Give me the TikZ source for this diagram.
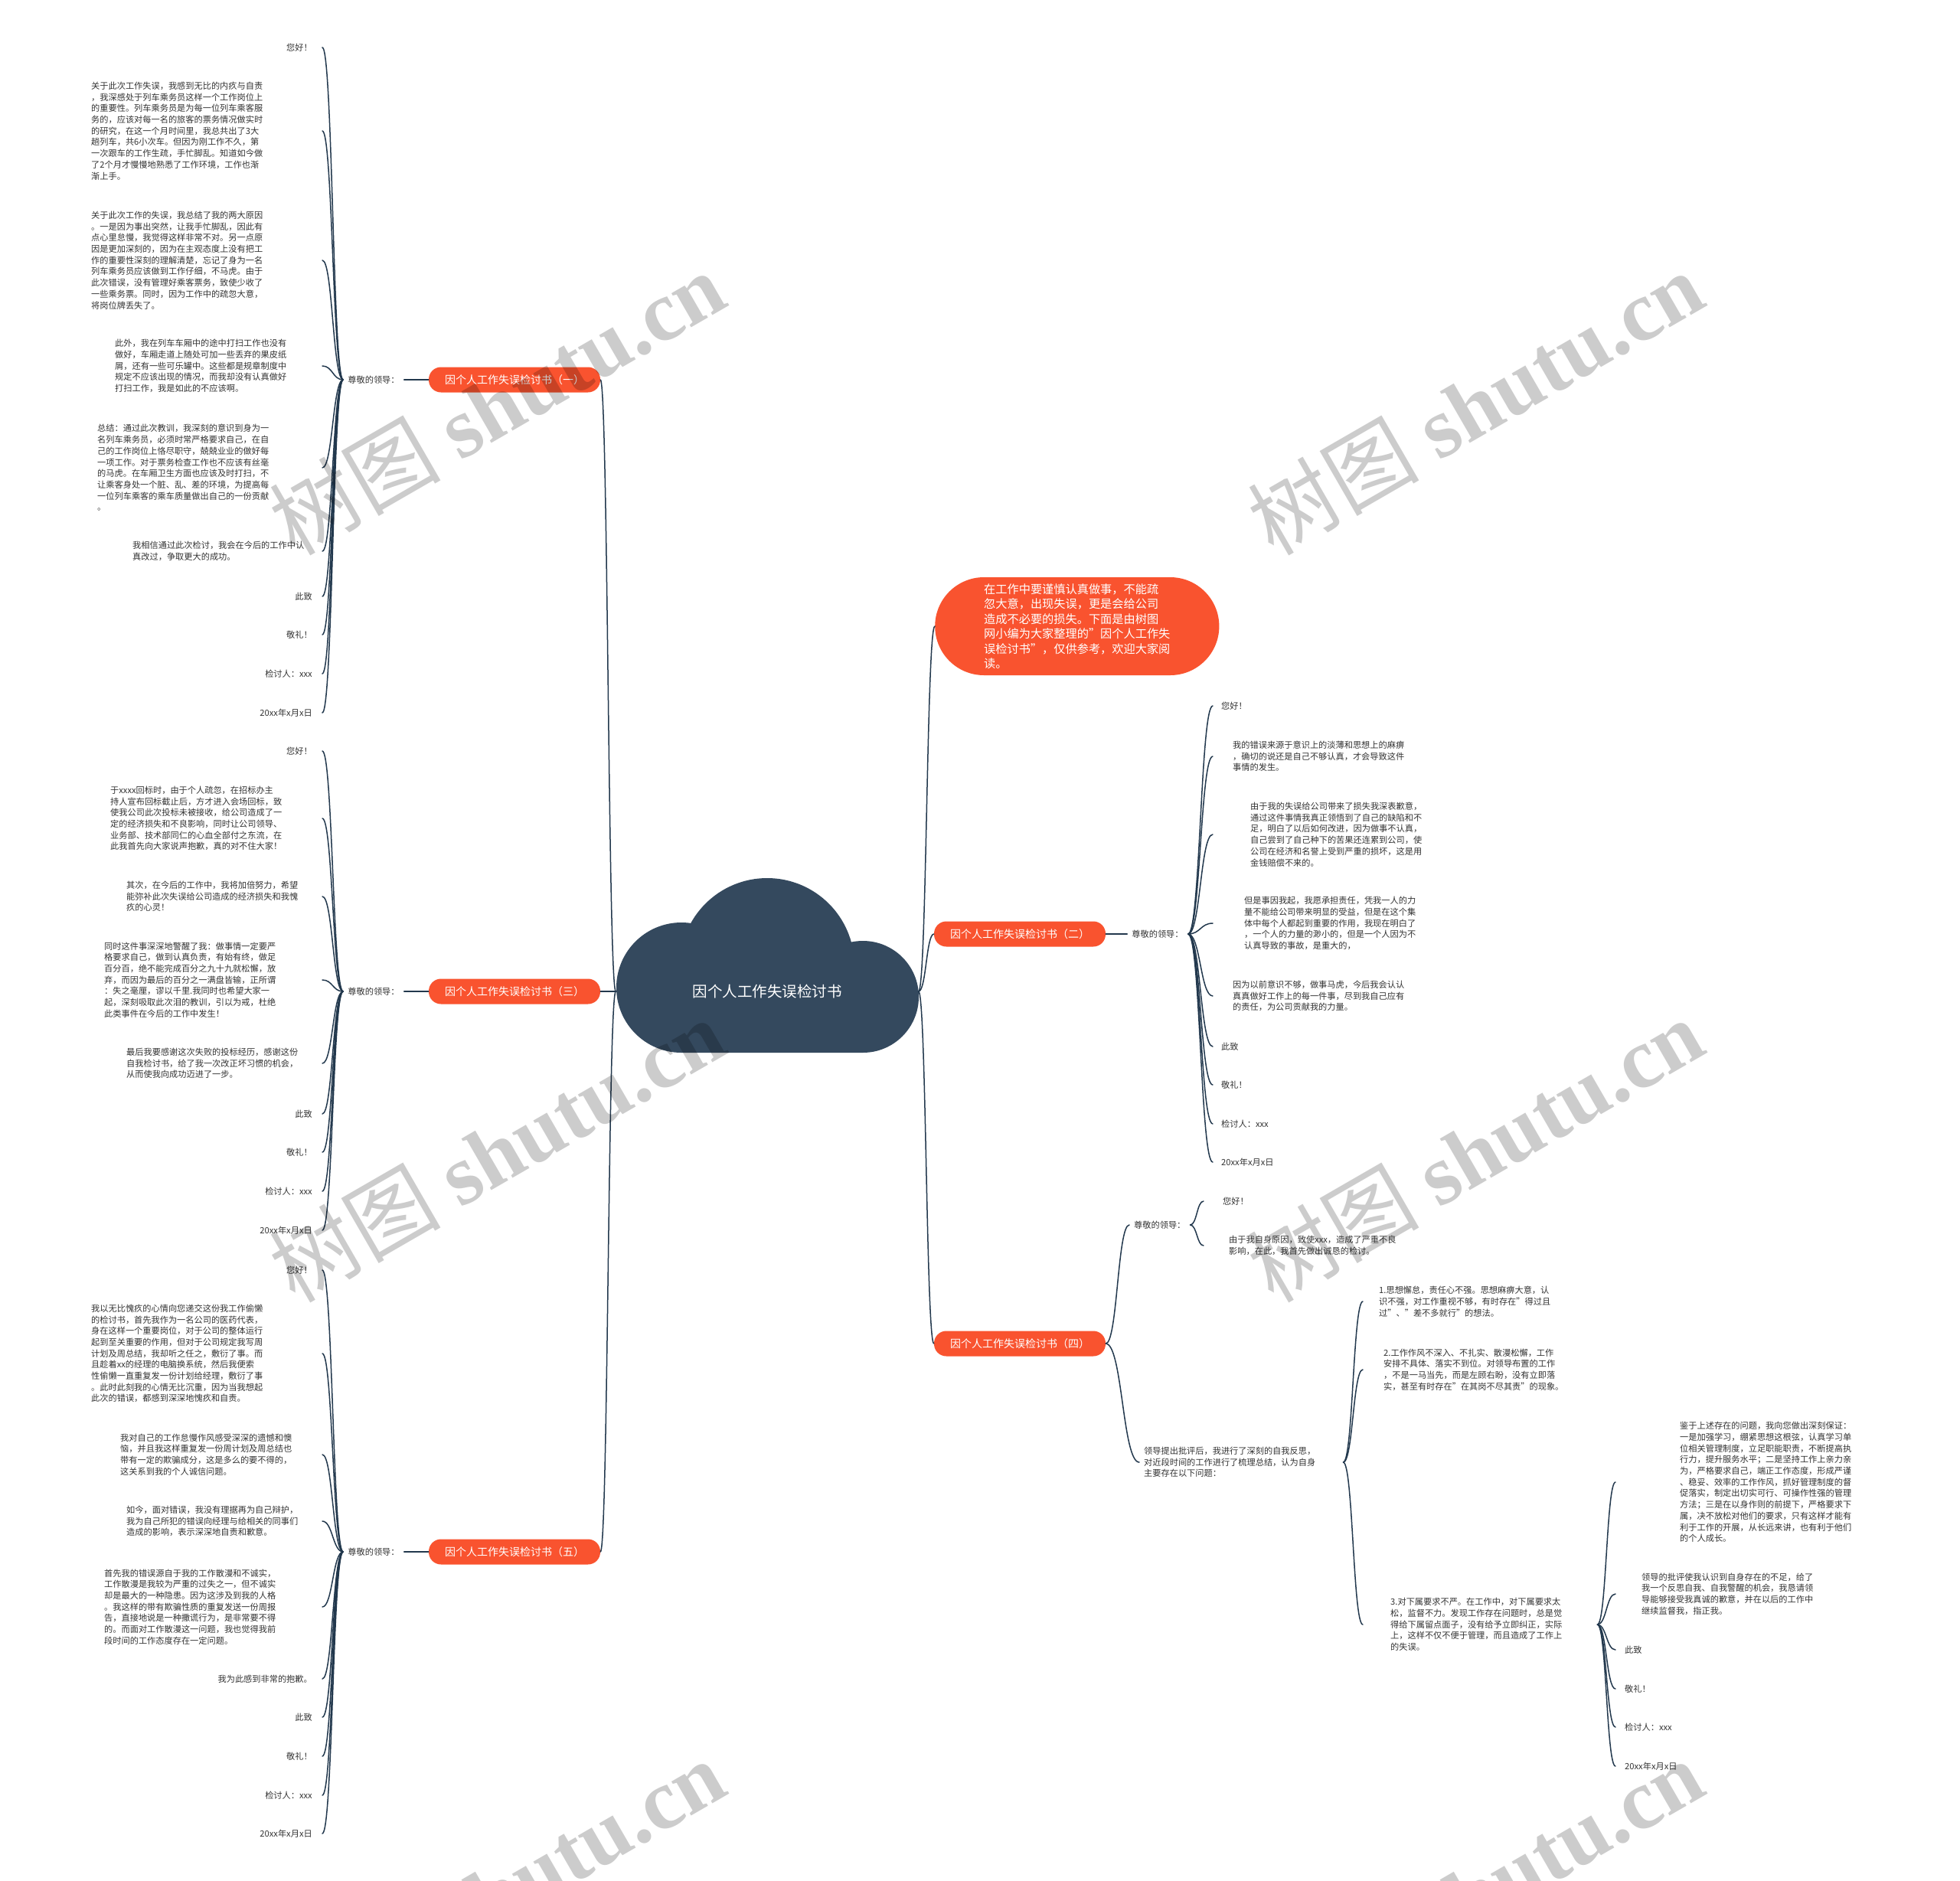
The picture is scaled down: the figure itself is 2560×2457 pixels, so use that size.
\documentclass[tikz,border=0pt]{standalone}
\usepackage{fontspec}
\setmainfont{Noto Sans CJK SC}
\newfontfamily\wmlatin{Liberation Serif}
\usetikzlibrary{calc}
\definecolor{orangec}{HTML}{F9532F}
\definecolor{cloudc}{HTML}{34495E}
\definecolor{linkc}{HTML}{22384D}
\definecolor{textc}{HTML}{333333}

\begin{document}
\begin{tikzpicture}[x=1pt,y=-1pt,
  link/.style={draw=linkc,line width=1.5pt,line cap=round},
  elbow/.style={to path={let \p1=(\tikztostart),\p2=(\tikztotarget) in
    .. controls ($(\p1)!.5!(\x2,\y1)$) and ($(\p2)!.5!(\x1,\y2)$) .. (\p2)}},
  leaf/.style={font=\fontsize{11.2}{14.7}\selectfont,text=textc,align=left,inner xsep=6pt,inner ysep=2pt},
  branch/.style={fill=orangec,text=white,rounded corners=16pt,minimum height=33pt,inner xsep=21pt,
    font=\fontsize{14}{16}\selectfont},
  intro/.style={fill=orangec,text=white,rounded corners=64pt,minimum height=128pt,inner xsep=64pt,
    align=left,font=\fontsize{15.2}{19.5}\selectfont},
  wmark/.style={rotate=30,text=black,opacity=.2,font=\fontsize{112}{112}\selectfont}]
  \fill[white] (0,0) rectangle (2560,2457);
  \useasboundingbox (0,0) rectangle (2560,2457);

  \fill[cloudc] (890,1290) circle (85pt) (1002,1261) circle (114pt) (1127,1302) circle (73pt)
    (890,1290) rectangle (1127,1375);
  \node[font=\fontsize{19.5}{22}\selectfont,text=white,minimum width=395pt,inner sep=0] (root) at (1002,1295) {因个人工作失误检讨书};

  \node[intro,anchor=west] (intro) at (1221,818) {在工作中要谨慎认真做事，不能疏\\忽大意，出现失误，更是会给公司\\造成不必要的损失。下面是由树图\\网小编为大家整理的"因个人工作失\\误检讨书"，仅供参考，欢迎大家阅\\读。};
  \node[branch] (b1) at (672,496) {因个人工作失误检讨书（一）};
  \node[branch] (b2) at (1332,1220) {因个人工作失误检讨书（二）};
  \node[branch] (b3) at (672,1295) {因个人工作失误检讨书（三）};
  \node[branch] (b4) at (1332,1755) {因个人工作失误检讨书（四）};
  \node[branch] (b5) at (672,2027) {因个人工作失误检讨书（五）};
  \foreach \b in {b1,b3,b5} \draw[link] (root.west) to[elbow] (\b.east);
  \foreach \b in {intro,b2,b4} \draw[link] (root.east) to[elbow] (\b.west);

  \node[leaf] (l1) at (488,496) {尊敬的领导：};
  \node[leaf] (l3) at (488,1295) {尊敬的领导：};
  \node[leaf] (l5) at (488,2027) {尊敬的领导：};
  \node[leaf] (l2) at (1512,1220) {尊敬的领导：};
  \node[leaf,anchor=west] (l4) at (1475,1600) {尊敬的领导：};
  \foreach \b in {1,3,5} \draw[link] (l\b.east) -- (b\b.west);
  \draw[link] (b2.east) -- (l2.west);

  \coordinate (eL) at (421,0);
  \coordinate (e2) at (1584,0);
  \coordinate (e4a) at (1572,0);
  \coordinate (e4b) at (1780,0);
  \coordinate (e4c) at (2110,0);

  \node[leaf,anchor=east] (a1) at (414,62) {您好！};
  \node[leaf,anchor=west] (a2) at (113,171) {关于此次工作失误，我感到无比的内疚与自责\\，我深感处于列车乘务员这样一个工作岗位上\\的重要性。列车乘务员是为每一位列车乘客服\\务的，应该对每一名的旅客的票务情况做实时\\的研究，在这一个月时间里，我总共出了3大\\趟列车，共6小次车。但因为刚工作不久，第\\一次跟车的工作生疏，手忙脚乱。知道如今做\\了2个月才慢慢地熟悉了工作环境，工作也渐\\渐上手。};
  \node[leaf,anchor=west] (a3) at (113,340) {关于此次工作的失误，我总结了我的两大原因\\。一是因为事出突然，让我手忙脚乱，因此有\\点心里怠慢，我觉得这样非常不对。另一点原\\因是更加深刻的，因为在主观态度上没有把工\\作的重要性深刻的理解清楚，忘记了身为一名\\列车乘务员应该做到工作仔细，不马虎。由于\\此次错误，没有管理好乘客票务，致使少收了\\一些乘务票。同时，因为工作中的疏忽大意，\\将岗位牌丢失了。};
  \node[leaf,anchor=west] (a4) at (144,478) {此外，我在列车车厢中的途中打扫工作也没有\\做好，车厢走道上随处可加一些丢弃的果皮纸\\屑，还有一些可乐罐中。这些都是规章制度中\\规定不应该出现的情况，而我却没有认真做好\\打扫工作，我是如此的不应该啊。};
  \node[leaf,anchor=west] (a5) at (121,611) {总结：通过此次教训，我深刻的意识到身为一\\名列车乘务员，必须时常严格要求自己，在自\\己的工作岗位上恪尽职守，兢兢业业的做好每\\一项工作。对于票务检查工作也不应该有丝毫\\的马虎。在车厢卫生方面也应该及时打扫，不\\让乘客身处一个脏、乱、差的环境，为提高每\\一位列车乘客的乘车质量做出自己的一份贡献\\。};
  \node[leaf,anchor=west] (a6) at (167,720) {我相信通过此次检讨，我会在今后的工作中认\\真改过，争取更大的成功。};
  \foreach \i/\y/\lab in {7/779/此致, 8/829/敬礼！, 9/880/检讨人：xxx, 10/931/20xx年x月x日}
    \node[leaf,anchor=east] (a\i) at (414,\y) {\lab};
  \foreach \i in {1,...,10} \draw[link] (l1.west) to[elbow] (a\i -| eL);

  \node[leaf,anchor=east] (c1) at (414,981) {您好！};
  \node[leaf,anchor=west] (c2) at (138,1069) {于xxxx回标时，由于个人疏忽，在招标办主\\持人宣布回标截止后，方才进入会场回标，致\\使我公司此次投标未被接收，给公司造成了一\\定的经济损失和不良影响，同时让公司领导、\\业务部、技术部同仁的心血全部付之东流，在\\此我首先向大家说声抱歉，真的对不住大家！};
  \node[leaf,anchor=west] (c3) at (159,1171) {其次，在今后的工作中，我将加倍努力，希望\\能弥补此次失误给公司造成的经济损失和我愧\\疚的心灵！};
  \node[leaf,anchor=west] (c4) at (130,1280) {同时这件事深深地警醒了我：做事情一定要严\\格要求自己，做到认真负责，有始有终，做足\\百分百，绝不能完成百分之九十九就松懈，放\\弃，而因为最后的百分之一满盘皆输，正所谓\\：失之毫厘，谬以千里.我同时也希望大家一\\起，深刻吸取此次泪的教训，引以为戒，杜绝\\此类事件在今后的工作中发生！};
  \node[leaf,anchor=west] (c5) at (159,1389) {最后我要感谢这次失败的投标经历，感谢这份\\自我检讨书，给了我一次改正坏习惯的机会，\\从而使我向成功迈进了一步。};
  \foreach \i/\y/\lab in {6/1455/此致, 7/1505/敬礼！, 8/1556/检讨人：xxx, 9/1607/20xx年x月x日}
    \node[leaf,anchor=east] (c\i) at (414,\y) {\lab};
  \foreach \i in {1,...,9} \draw[link] (l3.west) to[elbow] (c\i -| eL);

  \node[leaf,anchor=east] (d1) at (414,1659) {您好！};
  \node[leaf,anchor=west] (d2) at (113,1768) {我以无比愧疚的心情向您递交这份我工作偷懒\\的检讨书，首先我作为一名公司的医药代表，\\身在这样一个重要岗位，对于公司的整体运行\\起到至关重要的作用，但对于公司规定我写周\\计划及周总结，我却听之任之，敷衍了事。而\\且趁着xx的经理的电脑换系统，然后我便索\\性偷懒一直重复发一份计划给经理，敷衍了事\\。此时此刻我的心情无比沉重，因为当我想起\\此次的错误，都感到深深地愧疚和自责。};
  \node[leaf,anchor=west] (d3) at (151,1900) {我对自己的工作怠慢作风感受深深的遗憾和懊\\恼，并且我这样重复发一份周计划及周总结也\\带有一定的欺骗成分，这是多么的要不得的，\\这关系到我的个人诚信问题。};
  \node[leaf,anchor=west] (d4) at (159,1987) {如今，面对错误，我没有理据再为自己辩护，\\我为自己所犯的错误向经理与给相关的同事们\\造成的影响，表示深深地自责和歉意。};
  \node[leaf,anchor=west] (d5) at (130,2099) {首先我的错误源自于我的工作散漫和不诚实，\\工作散漫是我较为严重的过失之一，但不诚实\\却是最大的一种隐患。因为这涉及到我的人格\\。我这样的带有欺骗性质的重复发送一份周报\\告，直接地说是一种撒谎行为，是非常要不得\\的。而面对工作散漫这一问题，我也觉得我前\\段时间的工作态度存在一定问题。};
  \foreach \i/\y/\lab in {6/2193/我为此感到非常的抱歉。, 7/2243/此致, 8/2294/敬礼！, 9/2345/检讨人：xxx, 10/2395/20xx年x月x日}
    \node[leaf,anchor=east] (d\i) at (414,\y) {\lab};
  \foreach \i in {1,...,10} \draw[link] (l5.west) to[elbow] (d\i -| eL);

  \node[leaf,anchor=west] (f1) at (1589,922) {您好！};
  \node[leaf,anchor=west] (f2) at (1604,988) {我的错误来源于意识上的淡薄和思想上的麻痹\\，确切的说还是自己不够认真，才会导致这件\\事情的发生。};
  \node[leaf,anchor=west] (f3) at (1627,1090) {由于我的失误给公司带来了损失我深表歉意，\\通过这件事情我真正领悟到了自己的缺陷和不\\足，明白了以后如何改进，因为做事不认真，\\自己尝到了自己种下的苦果还连累到公司，使\\公司在经济和名誉上受到严重的损坏，这是用\\金钱赔偿不来的。};
  \node[leaf,anchor=west] (f4) at (1619,1206) {但是事因我起，我愿承担责任，凭我一人的力\\量不能给公司带来明显的受益，但是在这个集\\体中每个人都起到重要的作用，我现在明白了\\，一个人的力量的渺小的，但是一个人因为不\\认真导致的事故，是重大的，};
  \node[leaf,anchor=west] (f5) at (1604,1301) {因为以前意识不够，做事马虎，今后我会认认\\真真做好工作上的每一件事，尽到我自己应有\\的责任，为公司贡献我的力量。};
  \foreach \i/\y/\lab in {6/1367/此致, 7/1417/敬礼！, 8/1468/检讨人：xxx, 9/1518/20xx年x月x日}
    \node[leaf,anchor=west] (f\i) at (1589,\y) {\lab};
  \foreach \i in {1,...,9} \draw[link] (l2.east) to[elbow] (f\i -| e2);

  \node[leaf,anchor=west] (m4) at (1488,1910) {领导提出批评后，我进行了深刻的自我反思，\\对近段时间的工作进行了梳理总结，认为自身\\主要存在以下问题：};
  \draw[link] (b4.east) to[elbow] (l4.west);
  \draw[link] (b4.east) to[elbow] (m4.west);

  \node[leaf,anchor=west] (g1) at (1591,1569) {您好！};
  \node[leaf,anchor=west] (g2) at (1599,1627) {由于我自身原因，致使xxx，造成了严重不良\\影响，在此，我首先做出诚恳的检讨。};
  \foreach \i in {1,2} \draw[link] (l4.east) to[elbow] (g\i -| e4a);

  \node[leaf,anchor=west] (n1) at (1795,1700) {1.思想懈怠，责任心不强。思想麻痹大意，认\\识不强，对工作重视不够，有时存在"得过且\\过"、"差不多就行"的想法。};
  \node[leaf,anchor=west] (n2) at (1801,1789) {2.工作作风不深入、不扎实、散漫松懈，工作\\安排不具体、落实不到位。对领导布置的工作\\，不是一马当先，而是左顾右盼，没有立即落\\实，甚至有时存在"在其岗不尽其责"的现象。};
  \node[leaf,anchor=west] (n3) at (1810,2122) {3.对下属要求不严。在工作中，对下属要求太\\松，监督不力。发现工作存在问题时，总是觉\\得给下属留点面子，没有给予立即纠正，实际\\上，这样不仅不便于管理，而且造成了工作上\\的失误。};
  \foreach \i in {1,2,3} \draw[link] ([xshift=30]m4.east) to[elbow] (n\i -| e4b);

  \node[leaf,anchor=west] (o1) at (2188,1936) {鉴于上述存在的问题，我向您做出深刻保证：\\一是加强学习，绷紧思想这根弦，认真学习单\\位相关管理制度，立足职能职责，不断提高执\\行力，提升服务水平；二是坚持工作上亲力亲\\为，严格要求自己，端正工作态度，形成严谨\\、稳妥、效率的工作作风，抓好管理制度的督\\促落实，制定出切实可行、可操作性强的管理\\方法；三是在以身作则的前提下，严格要求下\\属，决不放松对他们的要求，只有这样才能有\\利于工作的开展，从长远来讲，也有利于他们\\的个人成长。};
  \node[leaf,anchor=west] (o2) at (2138,2082) {领导的批评使我认识到自身存在的不足，给了\\我一个反思自我、自我警醒的机会，我恳请领\\导能够接受我真诚的歉意，并在以后的工作中\\继续监督我，指正我。};
  \foreach \i/\y/\lab in {3/2155/此致, 4/2206/敬礼！, 5/2256/检讨人：xxx, 6/2307/20xx年x月x日}
    \node[leaf,anchor=west] (o\i) at (2116,\y) {\lab};
  \foreach \i in {1,...,6} \draw[link] ([xshift=40]n3.east) to[elbow] (o\i -| e4c);

  \foreach \x in {649,1927} \foreach \y in {526,1502,2470}
    \node[wmark] (wm\x\y) at (\x,\y) {树图 {\wmlatin\bfseries shutu.cn}};
\end{tikzpicture}
\end{document}
